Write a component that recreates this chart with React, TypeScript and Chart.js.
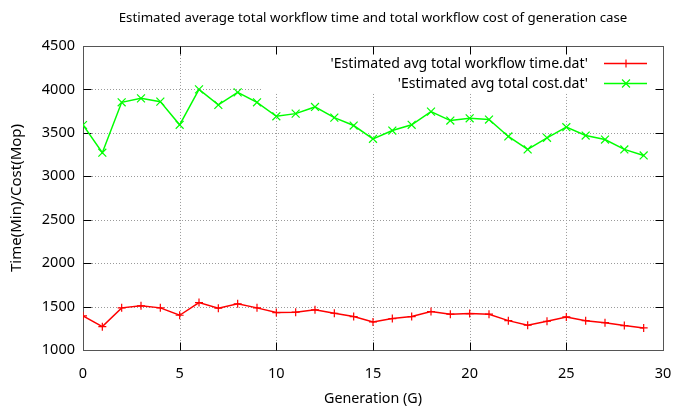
import React, { useEffect, useRef } from 'react';
import { Chart, registerables } from 'chart.js';

Chart.register(...registerables);

// Generation index (x axis)
const generations = [0, 1, 2, 3, 4, 5, 6, 7, 8, 9, 10, 11, 12, 13, 14, 15, 16, 17, 18, 19, 20, 21, 22, 23, 24, 25, 26, 27, 28, 29];

// Estimated average total workflow time per generation (minutes)
const avgTime = [1393, 1269, 1485, 1508, 1485, 1400, 1546, 1481, 1531, 1485, 1431, 1435, 1462, 1423, 1385, 1323, 1362, 1385, 1442, 1412, 1419, 1412, 1338, 1285, 1331, 1381, 1338, 1315, 1281, 1254];

// Estimated average total cost per generation (Mop)
const avgCost = [3590, 3271, 3851, 3897, 3859, 3592, 4000, 3821, 3966, 3851, 3690, 3721, 3798, 3675, 3584, 3431, 3526, 3592, 3744, 3641, 3667, 3653, 3458, 3309, 3443, 3565, 3469, 3423, 3309, 3240];

const xTicks = [0, 5, 10, 15, 20, 25, 30];
const yTicks = [1000, 1500, 2000, 2500, 3000, 3500, 4000, 4500];

const titleText = 'Estimated average total workflow time and total workflow cost of generation case';
const xTitle = 'Generation (G)';
const yTitle = 'Time(Min)/Cost(Mop)';
const seriesNames = ["'Estimated avg total workflow time.dat'", "'Estimated avg total cost.dat'"];

const FONT = 'Noto Sans';
const RED = '#ff0000';
const GREEN = '#00ff00';

// Gnuplot-style frame: dotted grid, blanked key area, boxed border with inward ticks, key at top right
const framePlugin = {
  id: 'gnuplotFrame',
  beforeDatasetsDraw(chart: any) {
    const { ctx, chartArea: a, scales } = chart;
    const xs = scales.x;
    const ys = scales.y;
    ctx.save();
    // dotted grid
    ctx.strokeStyle = '#9a9a9a';
    ctx.lineWidth = 1;
    ctx.setLineDash([1, 2]);
    for (const v of xTicks.slice(1, -1)) {
      const px = Math.round(xs.getPixelForValue(v)) + 0.5;
      ctx.beginPath();
      ctx.moveTo(px, a.top);
      ctx.lineTo(px, a.bottom);
      ctx.stroke();
    }
    for (const v of yTicks.slice(1, -1)) {
      const py = Math.round(ys.getPixelForValue(v)) + 0.5;
      ctx.beginPath();
      ctx.moveTo(a.left, py);
      ctx.lineTo(a.right, py);
      ctx.stroke();
    }
    ctx.setLineDash([]);
    // key area is cleared
    ctx.fillStyle = '#ffffff';
    ctx.fillRect(263, a.top + 1, a.right - 1 - 263, 92 - a.top);
    // border
    ctx.strokeStyle = '#555555';
    ctx.lineWidth = 1;
    const l = Math.round(a.left) + 0.5;
    const r = Math.round(a.right) + 0.5;
    const t = Math.round(a.top) + 0.5;
    const b = Math.round(a.bottom) + 0.5;
    ctx.strokeRect(l, t, r - l, b - t);
    // inward tick marks on all four sides
    ctx.strokeStyle = '#000000';
    const tl = 8;
    for (const v of xTicks.slice(1, -1)) {
      const px = Math.round(xs.getPixelForValue(v)) + 0.5;
      ctx.beginPath();
      ctx.moveTo(px, b);
      ctx.lineTo(px, b - tl);
      ctx.moveTo(px, t);
      ctx.lineTo(px, t + tl);
      ctx.stroke();
    }
    for (const v of yTicks.slice(1, -1)) {
      const py = Math.round(ys.getPixelForValue(v)) + 0.5;
      ctx.beginPath();
      ctx.moveTo(l, py);
      ctx.lineTo(l + tl, py);
      ctx.moveTo(r, py);
      ctx.lineTo(r - tl, py);
      ctx.stroke();
    }
    ctx.restore();
  },
  afterDatasetsDraw(chart: any) {
    const { ctx } = chart;
    ctx.save();
    ctx.font = `14.1px "${FONT}"`;
    ctx.textAlign = 'right';
    ctx.textBaseline = 'middle';
    const rows = [
      { y: 63.5, color: RED, style: 'cross', r: 4 },
      { y: 83.5, color: GREEN, style: 'crossRot', r: 5.6 },
    ];
    rows.forEach((row, i) => {
      ctx.fillStyle = '#000000';
      ctx.fillText(seriesNames[i], 588, row.y);
      ctx.strokeStyle = row.color;
      ctx.lineWidth = 1.5;
      ctx.beginPath();
      ctx.moveTo(604, row.y);
      ctx.lineTo(647, row.y);
      ctx.stroke();
      ctx.lineWidth = 1.2;
      ctx.beginPath();
      if (row.style === 'cross') {
        ctx.moveTo(626 - row.r, row.y);
        ctx.lineTo(626 + row.r, row.y);
        ctx.moveTo(626, row.y - row.r);
        ctx.lineTo(626, row.y + row.r);
      } else {
        const d = row.r * Math.SQRT1_2;
        ctx.moveTo(626 - d, row.y - d);
        ctx.lineTo(626 + d, row.y + d);
        ctx.moveTo(626 - d, row.y + d);
        ctx.lineTo(626 + d, row.y - d);
      }
      ctx.stroke();
    });
    ctx.restore();
  },
};

export default function App() {
  const canvasRef = useRef<HTMLCanvasElement | null>(null);

  useEffect(() => {
    if (!canvasRef.current) return;
    const font = { family: FONT, size: 14, weight: 'normal' as const };
    const chart = new Chart(canvasRef.current, {
      type: 'line',
      data: {
        datasets: [
          {
            label: seriesNames[0],
            data: generations.map((g, i) => ({ x: g, y: avgTime[i] })),
            borderColor: RED,
            backgroundColor: RED,
            borderWidth: 1.5,
            pointStyle: 'cross',
            pointRadius: 4,
            pointBorderWidth: 1.2,
            pointBorderColor: RED,
            fill: false,
            tension: 0,
          },
          {
            label: seriesNames[1],
            data: generations.map((g, i) => ({ x: g, y: avgCost[i] })),
            borderColor: GREEN,
            backgroundColor: GREEN,
            borderWidth: 1.5,
            pointStyle: 'crossRot',
            pointRadius: 5.6,
            pointBorderWidth: 1.2,
            pointBorderColor: GREEN,
            fill: false,
            tension: 0,
          },
        ],
      },
      options: {
        responsive: false,
        animation: false,
        layout: { padding: { left: 0, right: 13, top: 0, bottom: 0 } },
        plugins: {
          legend: { display: false },
          tooltip: { enabled: false },
          title: {
            display: true,
            fullSize: false,
            text: titleText,
            color: '#000000',
            font: { ...font, size: 13.3 },
            padding: { top: 10, bottom: 20 },
          },
        },
        scales: {
          x: {
            type: 'linear',
            min: 0,
            max: 30,
            afterBuildTicks: (s: any) => {
              s.ticks = xTicks.map((v) => ({ value: v }));
            },
            ticks: { color: '#000000', font: { ...font, size: 14.5 }, padding: 15 },
            grid: { display: false, drawTicks: false },
            border: { display: false },
            title: { display: true, text: xTitle, color: '#000000', font: { ...font, size: 14.3 }, padding: { top: 0, bottom: -2 } },
            afterFit: (s: any) => {
              s.height = 56;
              s.paddingLeft = 0;
              s.paddingRight = 0;
            },
          },
          y: {
            type: 'linear',
            min: 1000,
            max: 4500,
            afterBuildTicks: (s: any) => {
              s.ticks = yTicks.map((v) => ({ value: v }));
            },
            ticks: {
              color: '#000000',
              font: { ...font, size: 14.5 },
              padding: 8,
              callback: (v: any) => String(v),
            },
            grid: { display: false, drawTicks: false },
            border: { display: false },
            title: { display: true, text: yTitle, color: '#000000', font: { ...font, size: 15 }, padding: { top: 8, bottom: 0 } },
            afterFit: (s: any) => {
              s.width = 83;
            },
          },
        },
      },
      plugins: [framePlugin],
    });
    return () => chart.destroy();
  }, []);

  return (
    <div style={{ position: 'fixed', left: 0, top: 0, width: 676, height: 406, background: '#ffffff' }}>
      <canvas ref={canvasRef} width={676} height={406} />
    </div>
  );
}
